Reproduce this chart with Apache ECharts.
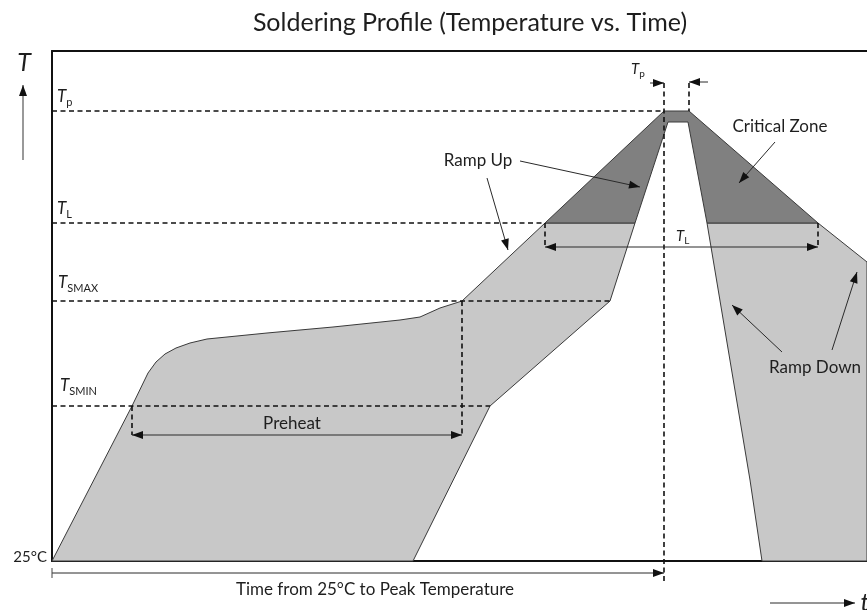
<!DOCTYPE html>
<html>
<head>
<meta charset="utf-8">
<script src="https://cdn.jsdelivr.net/npm/echarts@6/dist/echarts.min.js"></script>
<style>html,body{margin:0;padding:0;background:#fff}#c{width:867px;height:610px}</style>
</head>
<body>
<div id="c"></div>
<script>
// ---- DATA (abstract units: time on x, temperature on y; 0 = start / 25°C) ----
var X_MAX = 815, Y_MAX = 510;
var tempLevelNames = ['Tp', 'TL', 'TSMAX', 'TSMIN'];
var tempLevelValues = [450, 338, 260, 155];

// light-grey process window (preheat + ramp up, left band)
var rampUpBand = [[0,0],[80,155],[96,188],[104,199],[113,207],[124,213],[138,218],[155,222],[185,225],[215,228],[281,234],[348,241],[368,244],[388,253],[410,260],[493,338],[583,338],[558,260],[438,155],[361,0]];
// dark-grey critical zone (above TL)
var criticalZone = [[493,338],[612,450],[637,450],[766,338],[655,338],[636,439],[616,439],[583,338]];
// light-grey ramp-down band
var rampDownBand = [[655,338],[766,338],[815,299],[815,0],[710,0],[698,81]];

// dashed guide lines [from, to]
var dashedLines = [
  [[0,450],[612,450]],
  [[0,338],[493,338]],
  [[0,260],[558,260]],
  [[0,155],[438,155]],
  [[80,155],[80,126]],
  [[410,260],[410,126]],
  [[493,338],[493,313]],
  [[766,338],[766,313]],
  [[612,478],[612,-22]],
  [[637,478],[637,450]]
];
// arrows [from, to, doubleHeaded]
var arrows = [
  [[80,126],[410,126],true],
  [[493,314],[766,314],true],
  [[598,478],[612,478],false],
  [[656,479],[637,479],false],
  [[468,400],[588,374],false],
  [[435,383],[456,311],false],
  [[723,419],[687,378],false],
  [[730,209],[680,256],false],
  [[780,211],[805,289],false],
  [[0,-12],[612,-12],false],
  [[718,-42],[803,-42],false]
];
var axisArrow = [[-29,401],[-29,476]];

// ---- CHART ----
var FONT = 'Lato, "Open Sans", sans-serif';
var chart = echarts.init(document.getElementById('c'), null, {renderer:'canvas'});

function polygonSeries(points, fill, z) {
  return {
    type:'custom', coordinateSystem:'cartesian2d', clip:false, z:z, silent:true,
    data: points, encode:{x:0,y:1},
    renderItem: function(params, api){
      if (params.dataIndex !== 0) return null;
      var pts = points.map(function(p){ return api.coord(p); });
      return {type:'polygon', shape:{points:pts}, style:{fill:fill, stroke:'#3a3a3a', lineWidth:1}};
    }
  };
}
function dashSeries(lines) {
  return {
    type:'custom', coordinateSystem:'cartesian2d', clip:false, z:5, silent:true,
    data: lines.map(function(l){ return [l[0][0], l[0][1], l[1][0], l[1][1]]; }),
    encode:{x:[0,2], y:[1,3]},
    renderItem: function(params, api){
      var a = api.coord([api.value(0), api.value(1)]);
      var b = api.coord([api.value(2), api.value(3)]);
      return {type:'line', shape:{x1:a[0],y1:a[1],x2:b[0],y2:b[1]},
        style:{stroke:'#111', lineWidth:1.6, lineDash:[5,3.5]}};
    }
  };
}
function head(tip, from, len, hw) {
  var dx = tip[0]-from[0], dy = tip[1]-from[1];
  var d = Math.sqrt(dx*dx+dy*dy); dx/=d; dy/=d;
  var bx = tip[0]-dx*len, by = tip[1]-dy*len;
  return {type:'polygon', shape:{points:[[tip[0],tip[1]],[bx-dy*hw,by+dx*hw],[bx+dy*hw,by-dx*hw]]}, style:{fill:'#111'}};
}
function arrowSeries(list, color, width) {
  return {
    type:'custom', coordinateSystem:'cartesian2d', clip:false, z:6, silent:true,
    data: list.map(function(l){ return [l[0][0], l[0][1], l[1][0], l[1][1], l[2]?1:0]; }),
    encode:{x:[0,2], y:[1,3]},
    renderItem: function(params, api){
      var a = api.coord([api.value(0), api.value(1)]);
      var b = api.coord([api.value(2), api.value(3)]);
      var ch = [{type:'line', shape:{x1:a[0],y1:a[1],x2:b[0],y2:b[1]}, style:{stroke:color, lineWidth:width}}];
      ch.push(head(b, a, 11, 4));
      if (api.value(4)) ch.push(head(a, b, 11, 4));
      return {type:'group', children:ch};
    }
  };
}

function txt(x, y, s, size, align, italic, color) {
  return {type:'text', x:x, y:y, silent:true, z:20,
    style:{text:s, font:(italic?'italic ':'')+size+'px '+FONT, fill:color||'#1e1e1e', align:align||'center', verticalAlign:'middle'}};
}
function subLabel(x, y, main, sub, size, subSize) {
  return [txt(x, y, main, size, 'left', true), txt(x+ size*0.55, y+size*0.33, sub, subSize, 'left', false)];
}

var graphics = [
  txt(470, 23, 'Soldering Profile (Temperature vs. Time)', 25, 'center'),
  txt(24, 63, 'T', 25, 'center', true),
  txt(865, 603, 't', 25, 'center', true),
  txt(478, 161, 'Ramp Up', 17, 'center'),
  txt(780, 127, 'Critical Zone', 17, 'center'),
  txt(815, 368, 'Ramp Down', 17, 'center'),
  txt(292, 424, 'Preheat', 17, 'center'),
  txt(47, 557, '25°C', 15, 'right'),
  txt(375, 590, 'Time from 25°C to Peak Temperature', 17, 'center'),
  // tick at start of time arrow
  {type:'line', shape:{x1:52,y1:568,x2:52,y2:578}, style:{stroke:'#444', lineWidth:1}, z:20}
];
graphics = graphics
  .concat(subLabel(57, 97, 'T', 'p', 17, 11))
  .concat(subLabel(57, 209, 'T', 'L', 17, 11))
  .concat(subLabel(58, 283, 'T', 'SMAX', 17, 11))
  .concat(subLabel(60, 386, 'T', 'SMIN', 17, 11))
  .concat(subLabel(631, 69, 'T', 'p', 15, 10))
  .concat(subLabel(676, 236, 'T', 'L', 15, 10));

chart.setOption({
  animation:false,
  backgroundColor:'#fff',
  grid:{left:52, right:0, top:51, bottom:49},
  xAxis:[
    {type:'value', min:0, max:X_MAX, position:'bottom', axisLine:{show:true, onZero:false, lineStyle:{color:'#111', width:2}}, axisTick:{show:false}, axisLabel:{show:false}, splitLine:{show:false}},
    {type:'value', min:0, max:X_MAX, position:'top', axisLine:{show:true, onZero:false, lineStyle:{color:'#111', width:2}}, axisTick:{show:false}, axisLabel:{show:false}, splitLine:{show:false}}
  ],
  yAxis:{type:'value', min:0, max:Y_MAX, axisLine:{show:true, onZero:false, lineStyle:{color:'#111', width:2}}, axisTick:{show:false}, axisLabel:{show:false}, splitLine:{show:false}},
  series:[
    polygonSeries(rampUpBand, '#c8c8c8', 2),
    polygonSeries(rampDownBand, '#c8c8c8', 2),
    polygonSeries(criticalZone, '#808080', 3),
    dashSeries(dashedLines),
    arrowSeries(arrows, '#2a2a2a', 1),
    arrowSeries([[axisArrow[0], axisArrow[1], false]], '#777', 1.5)
  ],
  graphic: graphics
});
</script>
</body>
</html>
